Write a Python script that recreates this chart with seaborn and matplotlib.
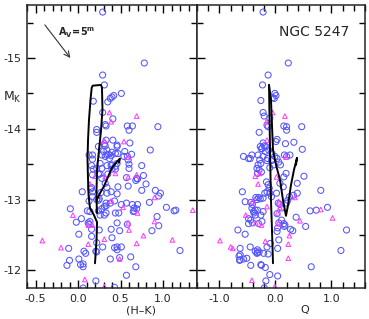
import matplotlib
matplotlib.use("Agg")
import matplotlib.pyplot as plt
import seaborn as sns
from matplotlib.ticker import MultipleLocator

# values
hk_circ = [0.29, 0.78, 0.29, 0.31, 0.18, 0.35, 0.38, 0.40, 0.42, 0.51, 0.29, 0.41, 0.32, 0.33,
           0.22, 0.22, 0.58, 0.60, 0.64, 0.94, 0.41, 0.46, 0.61, 0.32, 0.24, 0.63, 0.54, 0.58,
           0.85, 0.75, 0.77, 0.80, 0.69, 0.68, 0.75, 0.91, 0.97, 0.95, 0.84, 1.04, 1.13, 1.15,
           0.70, 0.66, 0.69, 0.65, 0.93, 0.95, 0.87, 1.20, 0.62, 0.68, 0.57,
           0.05, 0.34, 0.47, 0.59, -0.09, -0.02, 0.04, 0.01, 0.01, 0.07, 0.09, 0.03, 0.06, 0.06,
           0.21, 0.06, 0.43, -0.11, -0.10, -0.13, 0.16, 0.16, 0.25, 0.21, 0.29, 0.38, 0.39, 0.40,
           0.43, 0.46, 0.46, 0.49, 0.51, 0.58, 0.46, 0.44, 0.48, 0.51, 0.57, 0.64, 0.66, 0.46,
           0.43, 0.38, 0.33, 0.33, 0.31, 0.33, 0.31, 0.26, 0.24, 0.24, 0.13, 0.17, 0.11, 0.14,
           0.12, 0.14, 0.13, 0.15, 0.22, 0.26, 0.26, 0.34, 0.40, 0.44, 0.46, 0.44, 0.35, 0.32,
           0.34, 0.27, 0.25, 0.22, 0.39, 0.28, 0.13, 0.17, 0.17, 0.28, 0.30, 0.32, 0.34, 0.37,
           0.36, 0.39, 0.40, 0.44, 0.47, 0.59, 0.60, 0.60, 0.55, 0.46, 0.16, 0.18, 0.17, 0.28,
           0.24, 0.28, 0.39, 0.40, 0.57, 0.70, 0.16, 0.17, 0.33, 0.34, 0.31, 0.49, 0.22, 0.22]
mk_circ = [-15.65, -14.93, -14.76, -14.62, -14.39, -14.38, -14.43, -14.45, -14.47, -14.50, -14.23,
           -14.14, -14.06, -14.04, -13.99, -13.95, -14.04, -13.98, -14.04, -14.03, -13.84, -13.77,
           -13.80, -13.76, -13.75, -13.64, -13.61, -13.61, -13.70, -13.48, -13.34, -13.22, -13.30,
           -13.27, -13.13, -13.13, -13.09, -13.05, -12.96, -12.89, -12.84, -12.85, -12.93, -12.88,
           -12.87, -12.83, -12.76, -12.63, -12.56, -12.28, -12.19, -12.05, -11.93,
           -13.11, -13.17, -13.18, -13.19, -12.87, -12.68, -12.73, -12.51, -12.16, -12.27, -12.24,
           -12.08, -12.09, -12.05, -11.85, -11.75, -11.76, -12.31, -12.14, -12.07, -12.48, -12.58,
           -12.57, -12.27, -12.33, -12.16, -12.58, -12.46, -12.32, -12.29, -12.33, -12.18, -12.33,
           -12.65, -12.67, -12.81, -12.81, -12.93, -12.95, -12.93, -12.84, -13.08, -12.98, -12.95,
           -12.95, -12.91, -12.90, -12.81, -12.78, -12.78, -12.84, -12.99, -12.98, -13.04, -12.84,
           -12.83, -12.67, -12.69, -12.65, -13.15, -13.44, -13.36, -13.51, -13.48, -13.49, -13.47,
           -13.51, -13.43, -13.36, -13.23, -13.09, -13.10, -13.01, -13.00, -13.11, -12.87, -13.63,
           -13.63, -13.57, -13.63, -13.68, -13.61, -13.63, -13.58, -13.64, -13.62, -13.67, -13.65,
           -13.65, -13.56, -13.50, -13.44, -13.68, -13.75, -13.48, -13.43, -13.35, -13.44, -13.36,
           -13.30, -13.48, -13.43, -13.31, -13.29, -13.17, -13.11, -13.84, -13.70, -13.79, -12.56,
           -12.39, -12.26]
hk_tri = [0.37, 0.69, 0.39, 0.31, 0.54, 0.69, 0.90, 0.90, 0.77, 0.69, 1.11, 1.35, 0.59, 0.59,
          0.44, 0.20, 0.14, 0.53, 0.39, 0.70, 0.59, 0.60, -0.06, -0.42, -0.20, 0.12, 0.31, 0.49,
          0.12, 0.17, 0.08, 0.31, 0.32]
mk_tri = [-14.23, -14.18, -14.10, -13.83, -13.82, -13.35, -13.03, -12.69, -12.49, -12.38, -12.43,
          -12.85, -13.32, -13.60, -13.37, -13.33, -13.22, -12.89, -12.98, -12.81, -12.67, -12.57,
          -12.78, -12.42, -12.32, -12.37, -12.44, -12.16, -12.64, -12.64, -11.87, -11.77, -13.32]

q_circ = [-0.22, 0.23, -0.13, -0.23, -0.01, 0.01, -0.02, -0.05, -0.26, -0.22, -0.20, -0.10, -0.15,
          -0.13, 0.15, 0.20, 0.20, 0.47, -0.29, 0.03, 0.01, -0.22, -0.20, -0.27, -0.24, -0.17, 0.18,
          0.33, 0.48, -0.48, -0.31, -0.22, -0.14, -0.01, -0.57, -0.45, -0.42, -0.28, -0.26, -0.31,
          -0.33, -0.29, -0.25, -0.32, 0.16, 0.20, 0.26, 0.19, 0.15, -0.16, -0.13, -0.11, -0.15,
          -0.19, -0.10, -0.07, -0.22, -0.35, -0.30, -0.27, -0.33, -0.42, -0.39, -0.36, -0.48, -0.30,
          -0.24, -0.25, -0.18, -0.12, -0.06, 0.03, 0.06, 0.09, -0.03, -0.10, -0.15, -0.07,
          -0.59, -0.54, -0.44, -0.41, -0.48, -0.44, -0.41, -0.36, -0.38, -0.32, -0.26, -0.22,
          -0.67, -0.54, -0.63, -0.45, -0.65, -0.63, -0.51, -0.44, -0.32, -0.29, -0.33, -0.26,
          -0.25, -0.17, -0.10, 0.04, -0.20, 0.04, 0.06, 0.03, 0.17, 0.31, 0.54, 0.37, 0.62, 0.73,
          0.93, 1.27, 1.17, 0.64, 0.51, 0.81, 0.39, 0.32, 0.39, 0.08, 0.14, 0.20, 0.22, 0.25,
          0.02, 0.05, 0.08, 0.11, 0.03, 0.06, -0.36, -0.32, -0.63, -0.64, -0.57, -0.18, -0.13,
          -0.15, -0.09, -0.21, 0.15, 0.11, 0.27, 0.16, 0.04]
mk_q_circ = [-15.65, -14.93, -14.76, -14.62, -14.50, -14.47, -14.43, -14.44, -14.40, -14.23, -14.18,
             -14.15, -14.05, -14.03, -14.04, -14.03, -13.98, -14.03, -13.95, -13.85, -13.82, -13.80,
             -13.76, -13.75, -13.72, -13.75, -13.79, -13.81, -13.71, -13.58, -13.63, -13.61, -13.58,
             -13.61, -13.61, -13.58, -13.63, -13.56, -13.51, -13.49, -13.44, -13.42, -13.39, -13.37,
             -13.63, -13.61, -13.63, -13.37, -13.32, -13.25, -13.21, -13.16, -13.11, -13.09, -13.09,
             -13.04, -13.02, -13.03, -13.03, -13.01, -13.00, -12.88, -12.83, -12.78, -12.66, -12.66,
             -12.69, -13.72, -13.68, -13.70, -13.65, -13.58, -13.53, -13.49, -13.49, -13.45,
             -13.55, -13.55, -13.11, -12.97, -12.96, -12.93, -12.73, -12.71, -12.67, -12.85,
             -12.81, -12.85, -12.78, -12.83, -12.57, -12.51, -12.31, -12.33, -12.20, -12.15,
             -12.17, -12.07, -12.29, -12.26, -12.24, -12.08, -12.07, -11.85, -11.94, -11.92,
             -11.75, -12.31, -12.43, -12.55, -12.64, -12.56, -12.62, -12.75, -12.84, -12.85,
             -12.89, -12.57, -12.28, -12.05, -13.33, -13.13, -13.23, -13.06, -13.09, -13.23,
             -13.18, -12.95, -12.99, -13.04, -13.09, -12.95, -12.93, -12.88, -12.80, -12.67,
             -12.27, -12.25, -12.22, -12.14, -12.16, -12.04, -12.23, -12.33, -12.38, -12.24,
             -12.66, -12.71, -12.58, -12.62, -12.60]
q_tri = [-0.05, -0.16, 0.17, -0.15, -0.36, -0.31, -0.28, 0.02, 0.19, -0.41, -0.53, -0.35, -0.25,
         -0.99, -0.80, -0.76, -0.42, -0.01, 0.23, 0.23, 0.25, 0.44, 0.81, 1.02, 0.35, 0.08, 0.04,
         -0.15, 0.06, 0.05, -0.18]
mk_q_tri = [-14.23, -14.10, -14.18, -13.84, -13.33, -13.22, -13.37, -13.32, -13.60, -12.97, -12.78,
            -12.67, -12.64, -12.42, -12.33, -12.31, -11.86, -11.77, -12.17, -12.37, -12.49, -12.70,
            -12.86, -12.74, -13.03, -12.89, -12.81, -12.90, -12.97, -12.66, -12.41]

# evolutionary tracks
trk_hk = [0.20, 0.218, 0.224, 0.188, 0.141, 0.124, 0.118, 0.112, 0.118, 0.129, 0.147, 0.161, 0.173,
          0.271, 0.282, 0.288, 0.271, 0.247, 0.224, 0.218, 0.22, 0.224]
trk_hk_mk = [-12.10, -12.43, -12.68, -12.78, -12.88, -13.06, -13.28, -13.56, -13.84, -14.12, -14.41,
             -14.58, -14.61, -14.62, -14.58, -14.27, -13.98, -13.70, -13.42, -13.14, -12.92, -12.81]
br_hk = [0.22, 0.259, 0.306, 0.353, 0.40, 0.455, 0.494, 0.482]
br_hk_mk = [-12.99, -13.09, -13.19, -13.32, -13.45, -13.53, -13.58, -13.52]

trk_q_a = [-0.114, -0.096, -0.079, -0.061, -0.043]
trk_q_a_mk = [-14.62, -13.70, -12.99, -12.57, -12.10]
trk_q_b = [-0.114, -0.079, -0.043, 0.011, 0.082, 0.136, 0.189, 0.225, 0.279, 0.332, 0.386, 0.368]
trk_q_b_mk = [-14.62, -14.41, -13.70, -13.49, -13.28, -12.99, -12.77, -12.92, -13.21, -13.42,
              -13.59, -13.49]

sns.set_style("ticks")
plt.rcParams['font.family'] = ['DejaVu Sans']
plt.rcParams['xtick.direction'] = 'in'
plt.rcParams['ytick.direction'] = 'in'

BLUE = "#5555ff"
MAG = "#ff40ff"

fig = plt.figure(figsize=(3.69, 3.19), dpi=100)
ax1 = fig.add_axes([27 / 369, 31 / 319, 170 / 369, 283 / 319])
ax2 = fig.add_axes([197 / 369, 31 / 319, 168 / 369, 283 / 319])


def draw_panel(ax, xc, yc, xt, yt):
    sns.scatterplot(x=xc, y=yc, ax=ax, marker='o', s=19, facecolors='none',
                    edgecolor=BLUE, linewidth=0.75, legend=False)
    sns.scatterplot(x=xt, y=yt, ax=ax, marker='^', s=11, facecolors='none',
                    edgecolor=MAG, linewidth=0.75, legend=False)


draw_panel(ax1, hk_circ, mk_circ, hk_tri, mk_tri)
sns.lineplot(x=trk_hk, y=trk_hk_mk, ax=ax1, sort=False, estimator=None, color='k', lw=1.4)
sns.lineplot(x=br_hk, y=br_hk_mk, ax=ax1, sort=False, estimator=None, color='k', lw=1.4)

draw_panel(ax2, q_circ, mk_q_circ, q_tri, mk_q_tri)
sns.lineplot(x=trk_q_a, y=trk_q_a_mk, ax=ax2, sort=False, estimator=None, color='k', lw=1.4)
sns.lineplot(x=trk_q_b, y=trk_q_b_mk, ax=ax2, sort=False, estimator=None, color='k', lw=1.4)

for ax in (ax1, ax2):
    ax.set_ylim(-11.75, -15.75)
    ax.yaxis.set_major_locator(MultipleLocator(1))
    ax.yaxis.set_minor_locator(MultipleLocator(0.5))
    ax.tick_params(which='both', top=True, right=True, labelsize=8, color='k', pad=4)
    ax.tick_params(which='major', length=6, width=1)
    ax.tick_params(which='minor', length=4, width=1)
    for sp in ax.spines.values():
        sp.set_linewidth(1.1)
    ax.set_xlabel('')
    ax.set_ylabel('')

ax1.set_xlim(-0.6, 1.4)
ax1.xaxis.set_major_locator(MultipleLocator(0.5))
ax1.xaxis.set_minor_locator(MultipleLocator(0.1))
ax1.set_xticklabels([f"{v:.1f}" for v in ax1.get_xticks()])
ax1.set_yticklabels([f"{int(v)}" for v in ax1.get_yticks()])

ax2.set_xlim(-1.4, 1.6)
ax2.xaxis.set_major_locator(MultipleLocator(1.0))
ax2.xaxis.set_minor_locator(MultipleLocator(0.2))
ax2.set_xticklabels([f"{v:.1f}" for v in ax2.get_xticks()])
ax2.tick_params(labelleft=False)

ax1.text(-0.088, 0.675, r'$\mathrm{M_K}$', transform=ax1.transAxes, fontsize=9,
         ha='center', va='center')
ax1.text(0.67, -0.078, '(H\u2013K)', transform=ax1.transAxes, fontsize=8, ha='center', va='center')
ax2.text(0.64, -0.078, 'Q', transform=ax2.transAxes, fontsize=8, ha='center', va='center')
ax2.text(0.70, 0.905, 'NGC 5247', transform=ax2.transAxes, fontsize=10, ha='center', va='center')

ax1.annotate('', xy=(-0.07, -14.97), xytext=(-0.41, -15.50),
             arrowprops=dict(arrowstyle='->', color='#333333', lw=0.8))
ax1.text(-0.24, -15.35, r'$\mathbf{A_V\!=\!5^m}$', fontsize=7, ha='left', va='center')

fig.savefig('out.png', dpi=100)
